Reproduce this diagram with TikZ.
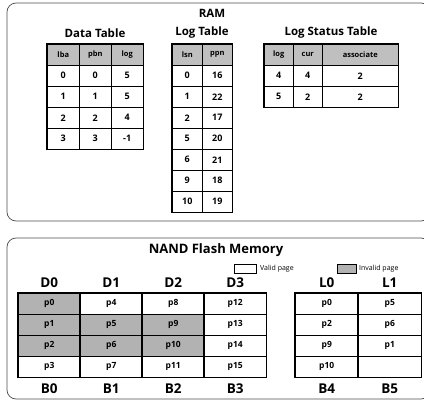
\documentclass[tikz,border=0pt]{standalone}
\usepackage{fontspec}
\setmainfont{Open Sans}
\begin{document}
\begin{tikzpicture}[x=1pt,y=-1pt,
  frame/.style={draw=black!70, line width=0.7pt, rounded corners=9pt},
  ttl/.style={font=\fontsize{11.5}{12}\selectfont\bfseries, inner sep=0pt},
  bigttl/.style={font=\fontsize{13}{14}\selectfont\bfseries, inner sep=0pt},
  cellbase/.style={draw, line width=0.5pt, inner sep=0pt, anchor=north west,
     font=\fontsize{9}{10}\selectfont\bfseries},
  hdr/.style={cellbase, fill=gray!50, font=\fontsize{7.5}{8}\selectfont\bfseries},
  outline/.style={draw, line width=1.6pt},
  page/.style={cellbase, minimum width=62pt, minimum height=21pt, font=\fontsize{8.5}{9}\selectfont\bfseries},
  inv/.style={fill=gray!60},
  val/.style={fill=white},
  lbl/.style={font=\fontsize{13.5}{14}\selectfont\bfseries, inner sep=0pt},
  leg/.style={font=\fontsize{7}{8}\selectfont, inner sep=0pt, anchor=west}
]
\useasboundingbox (0,0) rectangle (424,410);
% frames
\draw[frame] (7,3) rectangle (430,221);
\draw[frame] (7,238) rectangle (430,399);
% RAM titles
\node[ttl] (ram) at (212,13) {RAM};
\node[ttl] (dtt) at (95,33) {Data Table};
\node[ttl] (ltt) at (202,33) {Log Table};
\node[ttl] (lst) at (331,33) {Log Status Table};
% Data table
\foreach \h [count=\i from 0] in {lba,pbn,log}
  \node[hdr, minimum width=32pt, minimum height=21pt] (dth\i) at ({47+32*\i},44) {\h};
\foreach \a/\b/\c [count=\r from 1] in {0/0/5,1/1/5,2/2/4,3/3/-1}{
  \node[cellbase, minimum width=32pt, minimum height=21pt] (dt\r a) at (47,{44+21*\r}) {\a};
  \node[cellbase, minimum width=32pt, minimum height=21pt] (dt\r b) at (79,{44+21*\r}) {\b};
  \node[cellbase, minimum width=32pt, minimum height=21pt] (dt\r c) at (111,{44+21*\r}) {\c};
}
\draw[outline] (dth0.north west) rectangle (dt4c.south east);
% Log table
\node[hdr, minimum width=30pt, minimum height=21pt] (lth0) at (172,44) {lsn};
\node[hdr, minimum width=30pt, minimum height=21pt] (lth1) at (202,44) {ppn};
\foreach \a/\b [count=\r from 1] in {0/16,1/22,2/17,5/20,6/21,9/18,10/19}{
  \node[cellbase, minimum width=30pt, minimum height=21pt] (lt\r a) at (172,{44+21*\r}) {\a};
  \node[cellbase, minimum width=30pt, minimum height=21pt] (lt\r b) at (202,{44+21*\r}) {\b};
}
\draw[outline] (lth0.north west) rectangle (lt7b.south east);
% Log status table
\node[hdr, minimum width=29pt, minimum height=21pt] (lsh0) at (264,44) {log};
\node[hdr, minimum width=29pt, minimum height=21pt] (lsh1) at (293,44) {cur};
\node[hdr, minimum width=76pt, minimum height=21pt] (lsh2) at (322,44) {associate};
\foreach \a/\b/\c [count=\r from 1] in {4/4/2,5/2/2}{
  \node[cellbase, minimum width=29pt, minimum height=21pt] (ls\r a) at (264,{44+21*\r}) {\a};
  \node[cellbase, minimum width=29pt, minimum height=21pt] (ls\r b) at (293,{44+21*\r}) {\b};
  \node[cellbase, minimum width=76pt, minimum height=21pt] (ls\r c) at (322,{44+21*\r}) {\c};
}
\draw[outline] (lsh0.north west) rectangle (ls2c.south east);
% NAND
\node[bigttl] (nand) at (216,250) {NAND Flash Memory};
\node[draw, line width=0.5pt, fill=white, minimum width=22pt, minimum height=9pt, inner sep=0pt, anchor=north west] (vbox) at (234,264) {};
\node[leg] (vtxt) at (260,269) {Valid page};
\node[draw, line width=0.5pt, fill=gray!60, minimum width=19pt, minimum height=9pt, inner sep=0pt, anchor=north west] (ibox) at (337,264) {};
\node[leg] (itxt) at (359,269) {Invalid page};
% block columns
\foreach \t/\s [count=\r from 0] in {p0/inv,p1/inv,p2/inv,p3/val}
  \node[page,\s] (b0r\r) at (18,{293+21*\r}) {\t};
\foreach \t/\s [count=\r from 0] in {p4/val,p5/inv,p6/inv,p7/val}
  \node[page,\s] (b1r\r) at (80,{293+21*\r}) {\t};
\foreach \t/\s [count=\r from 0] in {p8/val,p9/inv,p10/inv,p11/val}
  \node[page,\s] (b2r\r) at (142,{293+21*\r}) {\t};
\foreach \t/\s [count=\r from 0] in {p12/val,p13/val,p14/val,p15/val}
  \node[page,\s] (b3r\r) at (204,{293+21*\r}) {\t};
\foreach \t/\s [count=\r from 0] in {p0/val,p2/val,p9/val,p10/val}
  \node[page,\s, minimum width=63pt] (b4r\r) at (295,{293+21*\r}) {\t};
\foreach \t/\s [count=\r from 0] in {p5/val,p6/val,p1/val,{}/val}
  \node[page,\s, minimum width=63pt] (b5r\r) at (358,{293+21*\r}) {\t};
\foreach \b in {0,...,5}
  \draw[outline] (b\b r0.north west) rectangle (b\b r3.south east);
% labels
\foreach \b/\t in {0/D0,1/D1,2/D2,3/D3,4/L0,5/L1}
  \node[lbl] (top\b) at ([yshift=10pt]b\b r0.north) {\t};
\foreach \b/\t in {0/B0,1/B1,2/B2,3/B3,4/B4,5/B5}
  \node[lbl] (bot\b) at ([yshift=-11pt]b\b r3.south) {\t};
\end{tikzpicture}
\end{document}
